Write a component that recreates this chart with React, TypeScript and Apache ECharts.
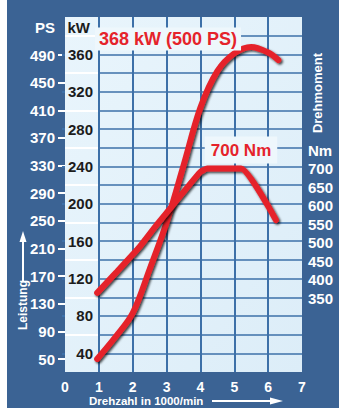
import React, { useEffect, useRef } from "react";
import * as echarts from "echarts";

// Data
const powerRpm = [0.95, 1.5, 2.0, 2.5, 3.0, 3.5, 4.0, 4.5, 5.0, 5.5, 6.0, 6.3];
const powerKw = [34, 58, 83, 130, 180, 241, 303, 342, 361, 368, 362, 354];
const torqueRpm = [0.95, 1.5, 2.2, 2.7, 3.2, 3.6, 4.0, 4.2, 5.2, 6.23];
const torqueNm = [364, 418, 488, 547, 603, 648, 691, 700, 700, 561];
const psLabels = [50, 90, 130, 170, 210, 250, 290, 330, 370, 410, 450, 490];
const kwLabels = [40, 80, 120, 160, 200, 240, 280, 320, 360];
const nmLabels = [350, 400, 450, 500, 550, 600, 650, 700];

const BG = "#3b6394";
const GRIDLINE = "#3d70a8";
const RED = "#e5232b";
const FONT = "'Liberation Sans', Arial, sans-serif";

export default function App() {
  const ref = useRef<HTMLDivElement>(null);
  useEffect(() => {
    document.body.style.margin = "0";
    const chart = echarts.init(ref.current!, null, { renderer: "svg" });
    const gridPos = { top: 17, bottom: 36 };
    const lineStyle = {
      color: RED,
      width: 6,
      cap: "round",
      join: "round",
      shadowColor: "rgba(0,0,0,0.75)",
      shadowBlur: 2,
      shadowOffsetX: 1.5,
      shadowOffsetY: 1.5,
    };
    chart.setOption({
      animation: false,
      backgroundColor: BG,
      textStyle: { fontFamily: FONT },
      grid: [
        {
          left: 65, right: 37, ...gridPos, show: true, borderWidth: 0,
          backgroundColor: new echarts.graphic.LinearGradient(0, 0, 1, 1, [
            { offset: 0, color: "#e9f5fc" },
            { offset: 1, color: "#dcedf8" },
          ]),
        },
        { left: 65, width: 34, ...gridPos },
        { left: 99, right: 37, ...gridPos },
      ],
      xAxis: [
        {
          gridIndex: 0, type: "value", min: 0, max: 7, interval: 1,
          axisLine: { show: false }, axisTick: { show: false },
          axisLabel: { color: "#fff", fontWeight: "bold", fontSize: 14, margin: 8, fontFamily: FONT },
          splitLine: { show: true, showMinLine: false, showMaxLine: false, lineStyle: { color: GRIDLINE, width: 2 } },
        },
        { gridIndex: 1, type: "value", min: 0, max: 1, show: false },
        { gridIndex: 2, type: "value", min: 1, max: 7, show: false },
      ],
      yAxis: [
        { gridIndex: 0, type: "value", min: 20, max: 400, show: false },
        {
          gridIndex: 0, type: "value", min: 150, max: 1110, interval: 50, position: "right",
          axisLine: { show: false }, axisTick: { show: false }, splitLine: { show: false },
          axisLabel: {
            color: "#fff", fontWeight: "bold", fontSize: 15, margin: 6, fontFamily: FONT,
            formatter: (v: number) => (v === 750 ? "Nm" : nmLabels.indexOf(v) >= 0 ? String(v) : ""),
          },
        },
        {
          gridIndex: 0, type: "value", min: 31.2, max: 545, position: "left",
          axisLine: { show: false }, splitLine: { show: false },
          axisTick: { show: true, length: 7, customValues: psLabels, lineStyle: { color: "#fff", width: 2 } },
          axisLabel: {
            color: "#fff", fontWeight: "bold", fontSize: 15, margin: 10, fontFamily: FONT,
            customValues: [...psLabels, 530],
            formatter: (v: number) => (v === 530 ? "PS" : String(v)),
          },
        },
        {
          gridIndex: 1, type: "value", min: 20, max: 400, position: "right",
          axisLine: { show: false }, splitLine: { show: false },
          axisTick: { show: true, inside: true, length: 3, customValues: kwLabels, lineStyle: { color: GRIDLINE, width: 2 } },
          axisLabel: {
            inside: true, color: "#1c1c1c", fontWeight: "bold", fontSize: 15, margin: 6, fontFamily: FONT,
            customValues: kwLabels,
          },
        },
        {
          gridIndex: 1, type: "value", min: 20, max: 400, interval: 40,
          axisLine: { show: false }, axisTick: { show: false }, axisLabel: { show: false },
          splitLine: { show: true, showMinLine: false, showMaxLine: false, lineStyle: { color: "#ffffff", width: 2 } },
        },
        {
          gridIndex: 2, type: "value", min: 20, max: 400, interval: 20,
          axisLine: { show: false }, axisTick: { show: false }, axisLabel: { show: false },
          splitLine: { show: true, showMinLine: false, showMaxLine: false, lineStyle: { color: GRIDLINE, width: 1.5 } },
        },
      ],
      series: [
        {
          name: "Leistung", type: "line", xAxisIndex: 0, yAxisIndex: 0,
          data: powerRpm.map((r, i) => [r, powerKw[i]]),
          smooth: 0.35, showSymbol: false, symbol: "none", lineStyle, z: 5,
        },
        {
          name: "Drehmoment", type: "line", xAxisIndex: 0, yAxisIndex: 1,
          data: torqueRpm.map((r, i) => [r, torqueNm[i]]),
          smooth: 0.15, showSymbol: false, symbol: "none", lineStyle, z: 5,
        },
      ],
      graphic: [
        { type: "rect", left: 0, top: 0, shape: { width: 7, height: 408 }, style: { fill: "#ffffff" } },
        {
          type: "text", x: 90, y: 27,
          style: { text: "kW", fill: "#1c1c1c", font: `bold 15px ${FONT}`, align: "right", verticalAlign: "middle" },
        },
        {
          type: "text", x: 168, y: 39, z: 10,
          style: {
            text: "368 kW (500 PS)", fill: RED, font: `bold 18px ${FONT}`, align: "center", verticalAlign: "middle",
            backgroundColor: "#eef7fc", padding: [3, 4, 2, 4],
          },
        },
        {
          type: "text", x: 241, y: 150, z: 10,
          style: {
            text: "700 Nm", fill: RED, font: `bold 17px ${FONT}`, align: "center", verticalAlign: "middle",
            backgroundColor: "#eef7fc", padding: [5, 6, 5, 6],
          },
        },
        {
          type: "text", x: 317, y: 93, rotation: Math.PI / 2,
          style: { text: "Drehmoment", fill: "#fff", font: `bold 13px ${FONT}`, align: "center", verticalAlign: "middle" },
        },
        {
          type: "text", x: 23, y: 305, rotation: Math.PI / 2,
          style: { text: "Leistung", fill: "#fff", font: `bold 12px ${FONT}`, align: "center", verticalAlign: "middle" },
        },
        { type: "line", shape: { x1: 23, y1: 281, x2: 23, y2: 240 }, style: { stroke: "#fff", lineWidth: 2 } },
        { type: "polygon", shape: { points: [[23, 231], [19.5, 242], [26.5, 242]] }, style: { fill: "#fff" } },
        {
          type: "text", x: 89, y: 401,
          style: { text: "Drehzahl in 1000/min", fill: "#fff", font: `bold 11.5px ${FONT}`, align: "left", verticalAlign: "middle" },
        },
        { type: "line", shape: { x1: 212, y1: 401, x2: 272, y2: 401 }, style: { stroke: "#fff", lineWidth: 2 } },
        { type: "polygon", shape: { points: [[283, 401], [270, 397.5], [270, 404.5]] }, style: { fill: "#fff" } },
      ],
    });
    return () => chart.dispose();
  }, []);
  return <div ref={ref} style={{ width: 339, height: 408 }} />;
}
